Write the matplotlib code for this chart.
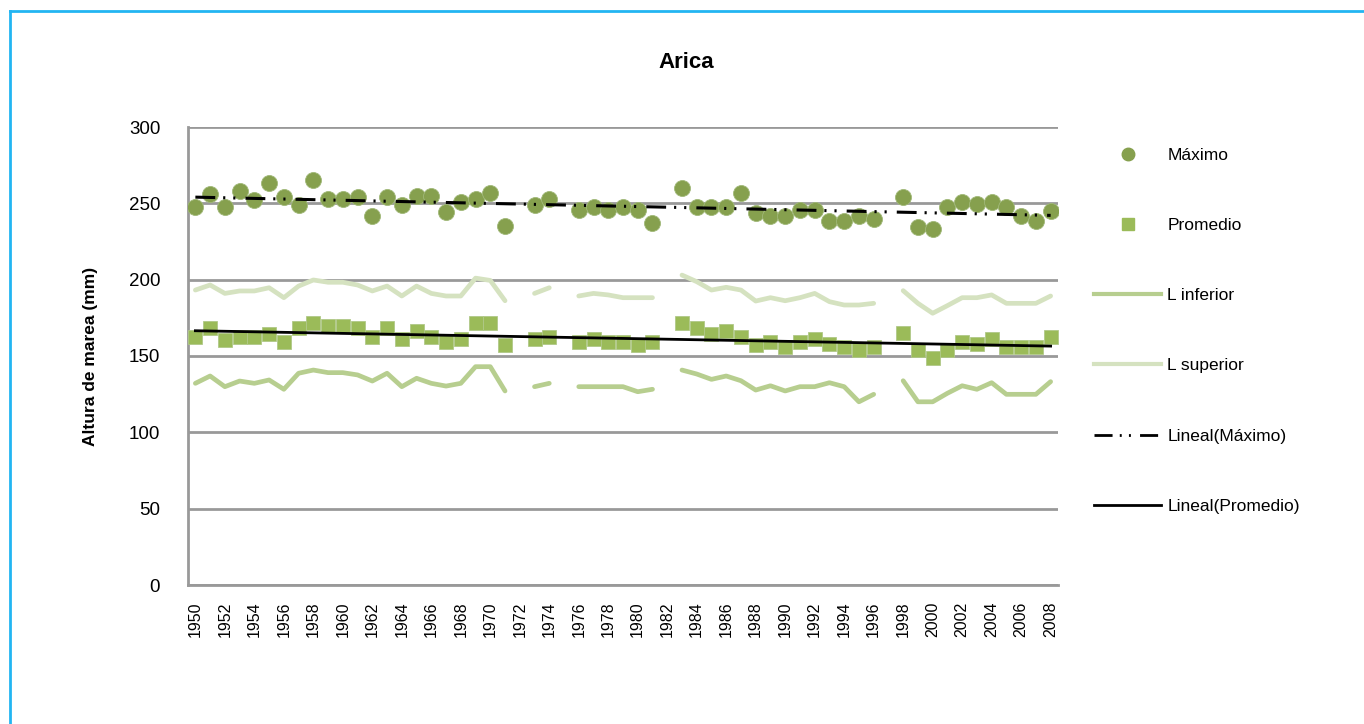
import numpy as np
import matplotlib
matplotlib.use("Agg")
import matplotlib.pyplot as plt
from matplotlib.lines import Line2D

plt.rcParams['font.family'] = ['Liberation Sans', 'DejaVu Sans']

nan = np.nan
years = list(range(1950, 2009))

maximo = [247.6, 256, 247.6, 258, 252.5, 263, 254, 249, 265, 252.6,
          252.6, 254, 242, 254, 249, 254.8, 254.8, 244, 251, 252.6,
          256.5, 235, nan, 249, 252.8, nan, 245.6, 247.8, 245.6, 247.8,
          245.6, 237, nan, 260.3, 247.4, 247.4, 247.4, 256.5, 243.9, 241.7,
          241.7, 245.6, 245.6, 238.4, 238.4, 241.9, 239.7, nan, 254.4, 234.7,
          233.2, 247.4, 251, 249.3, 251, 247.4, 241.9, 238.4, 245.2]

promedio = [162.6, 168.1, 160.5, 162.6, 162.6, 164.4, 159.4, 168.1, 171.4, 169.9,
            169.9, 168.1, 162.6, 168.1, 160.9, 166.4, 162.6, 159.4, 161.1, 171.4,
            171.4, 157.2, nan, 160.9, 162.6, nan, 159.4, 160.9, 159.4, 159.4,
            157.2, 159.4, nan, 171.4, 168.1, 164.4, 166.4, 162.6, 157.2, 159.4,
            155.7, 159.4, 160.9, 157.6, 155.7, 153.9, 155.7, nan, 164.9, 153.9,
            148.5, 153.9, 159.4, 157.6, 160.9, 155.7, 155.7, 155.7, 162.6]

l_inferior = [132.1, 136.9, 129.9, 133.6, 132.1, 134.3, 128.2, 138.7, 140.8, 139.1,
              139.1, 137.6, 133.6, 138.7, 129.9, 135.4, 132.1, 130.3, 132.1, 143,
              143, 127.1, nan, 129.9, 132.1, nan, 129.9, 129.9, 129.9, 129.9,
              126.6, 128.2, nan, 140.8, 138.2, 134.7, 136.9, 133.8, 127.7, 130.5,
              127.1, 129.9, 129.9, 132.5, 129.9, 120, 124.9, nan, 133.8, 120,
              120, 125.6, 130.5, 128.2, 132.5, 124.9, 124.9, 124.9, 133.2]

l_superior = [193.2, 196.5, 191, 192.6, 192.6, 194.7, 188.2, 195.8, 199.8, 198.3,
              198.3, 196.5, 192.6, 195.8, 189.3, 195.8, 191, 189.3, 189.3, 201,
              199.5, 186.2, nan, 191, 194.7, nan, 189.3, 191, 190, 188.2,
              188.2, 188.2, nan, 203, 198.7, 193.2, 195, 193.2, 186, 188.2,
              186.2, 188.2, 191, 185.6, 183.4, 183.4, 184.5, nan, 192.8, 184.5,
              178, 183, 188.2, 188.2, 190, 184.5, 184.5, 184.5, 189.3]

yticks = [0, 50, 100, 150, 200, 250, 300]
xticks = list(range(1950, 2009, 2))

x = np.array(years, dtype=float)
ymax = np.array(maximo, dtype=float)
yprom = np.array(promedio, dtype=float)
yinf = np.array(l_inferior, dtype=float)
ysup = np.array(l_superior, dtype=float)

c_max = '#86a04e'
c_prom = '#9bbb59'
c_inf = '#b7ce8f'
c_sup = '#d5e2c0'
grid_c = '#999999'
dash_max = (0, (6.5, 2.6, 0.7, 2.6, 0.7, 3.3))

fig = plt.figure(figsize=(13.64, 7.24), dpi=100)
ax = fig.add_axes([188/1364, 1-585/724, (1058-188)/1364, (585-127)/724])

ax.plot(x, yinf, color=c_inf, lw=3.4, solid_capstyle='round', solid_joinstyle='round', zorder=3)
ax.plot(x, ysup, color=c_sup, lw=3.4, solid_capstyle='round', solid_joinstyle='round', zorder=3)
ax.plot(x, ymax, 'o', color=c_max, ms=11.5, mec='#a0b878', mew=0.6, zorder=4)
ax.plot(x, yprom, 's', color=c_prom, ms=9.5, mec='#b0c888', mew=0.6, zorder=4)

m = ~np.isnan(ymax)
p = np.polyfit(x[m], ymax[m], 1)
ax.plot(x, np.polyval(p, x), color='black', lw=2.2, linestyle=dash_max, zorder=5)
m2 = ~np.isnan(yprom)
p2 = np.polyfit(x[m2], yprom[m2], 1)
ax.plot(x, np.polyval(p2, x), color='black', lw=2.0, zorder=5)

ax.set_xlim(1949.5, 2008.5)
ax.set_ylim(0, 300)
ax.set_yticks(yticks)
ax.set_xticks(xticks)
ax.set_xticklabels([str(t) for t in xticks], rotation=90, fontsize=11.5)
ax.tick_params(axis='x', length=0, pad=12)
ax.tick_params(axis='y', length=0, pad=20, labelsize=13.5)
ax.grid(axis='y', color=grid_c, lw=2.0, zorder=0)
ax.set_axisbelow(True)
for s in ['top', 'right']:
    ax.spines[s].set_visible(False)
ax.spines['left'].set_color(grid_c)
ax.spines['left'].set_linewidth(2.0)
ax.spines['bottom'].set_color(grid_c)
ax.spines['bottom'].set_linewidth(2.0)

ax.set_ylabel('Altura de marea (mm)', fontsize=12.5, fontweight='bold', labelpad=22)
fig.text(686/1364, 1-62/724, 'Arica', fontsize=16, fontweight='bold', ha='center', va='center')

handles = [
    Line2D([], [], ls='none', marker='o', color=c_max, ms=9),
    Line2D([], [], ls='none', marker='s', color=c_prom, ms=9),
    Line2D([], [], color=c_inf, lw=3),
    Line2D([], [], color=c_sup, lw=3),
    Line2D([], [], color='black', lw=2, linestyle=dash_max),
    Line2D([], [], color='black', lw=2),
]
labels = ['Máximo', 'Promedio', 'L inferior', 'L superior', 'Lineal(Máximo)', 'Lineal(Promedio)']
fig.legend(handles, labels, loc='upper left', bbox_to_anchor=(1085/1364, 1-139/724),
           frameon=False, fontsize=12.5, handlelength=3.9, handletextpad=0.35,
           labelspacing=3.17, borderpad=0)

# blue frame
fig.add_artist(Line2D([10/1364, 10/1364], [0, 1-11/724], color='#22b5f2', lw=2.0,
                      transform=fig.transFigure))
fig.add_artist(Line2D([10/1364, 1], [1-11/724, 1-11/724], color='#22b5f2', lw=2.0,
                      transform=fig.transFigure))

fig.savefig('out.png', dpi=100)
